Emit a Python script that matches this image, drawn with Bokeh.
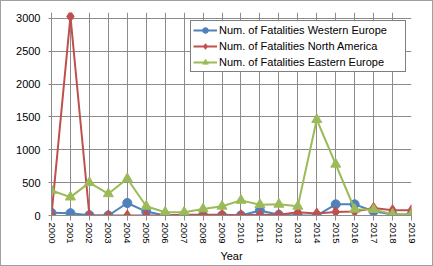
from bokeh.plotting import figure
from bokeh.models import Range1d, FixedTicker, Legend, LegendItem
from bokeh.embed import file_html
from bokeh.resources import INLINE

years = list(range(2000, 2020))
western_europe = [40, 35, 5, 0, 190, 60, 0, 0, 0, 0, 0, 75, 10, 0, 0, 170, 170, 65, 15, 15]
north_america = [10, 3030, 0, 0, 0, 0, 5, 10, 10, 10, 5, 10, 10, 50, 30, 55, 60, 115, 80, 80]
eastern_europe = [380, 280, 500, 330, 560, 140, 50, 50, 100, 140, 230, 165, 170, 140, 1460, 780, 95, 90, 20, 20]
y_ticks = [0, 500, 1000, 1500, 2000, 2500, 3000]
labels = ["Num. of Fatalities Western Europe",
          "Num. of Fatalities North America",
          "Num. of Fatalities Eastern Europe"]

FONT = "Liberation Sans"
GRID = "#8C8C8C"

p = figure(frame_width=360, frame_height=203,
           x_range=Range1d(2000, 2019), y_range=Range1d(0, 3090),
           output_backend="svg", toolbar_location=None,
           min_border_left=51, min_border_right=22,
           min_border_top=12, min_border_bottom=51)
p.outline_line_color = None
p.background_fill_color = "white"
p.border_fill_color = "white"

# axes
p.xaxis.ticker = FixedTicker(ticks=years)
p.xgrid.ticker = FixedTicker(ticks=years)
p.yaxis.ticker = FixedTicker(ticks=y_ticks)
p.ygrid.ticker = FixedTicker(ticks=y_ticks)
p.xaxis.major_label_orientation = "vertical"
p.xaxis.axis_label = "Year"
for ax in (p.xaxis, p.yaxis):
    ax.axis_line_color = GRID
    ax.major_tick_line_color = GRID
    ax.minor_tick_line_color = None
    ax.major_tick_in = 0
    ax.major_label_text_font = FONT
    ax.major_label_text_color = "black"
    ax.axis_label_text_font = FONT
    ax.axis_label_text_font_style = "normal"
    ax.axis_label_text_color = "black"
    ax.axis_label_text_font_size = "11px"
p.xaxis.major_tick_out = 5
p.xaxis.major_label_standoff = 2
p.xaxis.major_label_text_font_size = "9.5px"
p.xaxis.axis_label_standoff = 3
p.yaxis.major_tick_out = 3
p.yaxis.major_label_standoff = 8
p.yaxis.major_label_text_font_size = "11px"
p.xgrid.grid_line_color = GRID
p.ygrid.grid_line_color = GRID

blue, red, green = "#4F81BD", "#C0504D", "#9BBB59"

l1 = p.line(years, western_europe, line_color=blue, line_width=2)
s1 = p.scatter(years, western_europe, marker="circle", size=9, fill_color=blue, line_color=blue)
l2 = p.line(years, north_america, line_color=red, line_width=2)
s2 = p.scatter(years, north_america, marker="diamond", size=11, fill_color=red, line_color=red)
l3 = p.line(years, eastern_europe, line_color=green, line_width=2)
s3 = p.scatter(years, eastern_europe, marker="triangle", size=10, fill_color=green, line_color=green)

legend = Legend(items=[LegendItem(label=labels[0], renderers=[l1, s1]),
                       LegendItem(label=labels[1], renderers=[l2, s2]),
                       LegendItem(label=labels[2], renderers=[l3, s3])],
                location=(139, 143))
legend.border_line_color = "black"
legend.border_line_width = 1
legend.background_fill_color = "white"
legend.background_fill_alpha = 1
legend.padding = 2
legend.spacing = 2
legend.margin = 0
legend.glyph_width = 24
legend.glyph_height = 14
legend.label_height = 14
legend.label_width = 184
legend.label_standoff = 2
legend.label_text_font = FONT
legend.label_text_font_size = "11px"
legend.label_text_color = "black"
p.add_layout(legend)

html = file_html(p, INLINE)
style = ("<style>html,body{margin:0;padding:0;}"
         "body::after{content:'';position:fixed;left:0;top:0;width:433px;height:266px;"
         "box-sizing:border-box;border:1.5px solid #A0A0A0;pointer-events:none;}</style>")
html = html.replace("<head>", "<head>" + style, 1)
open("out.html", "w").write(html)
